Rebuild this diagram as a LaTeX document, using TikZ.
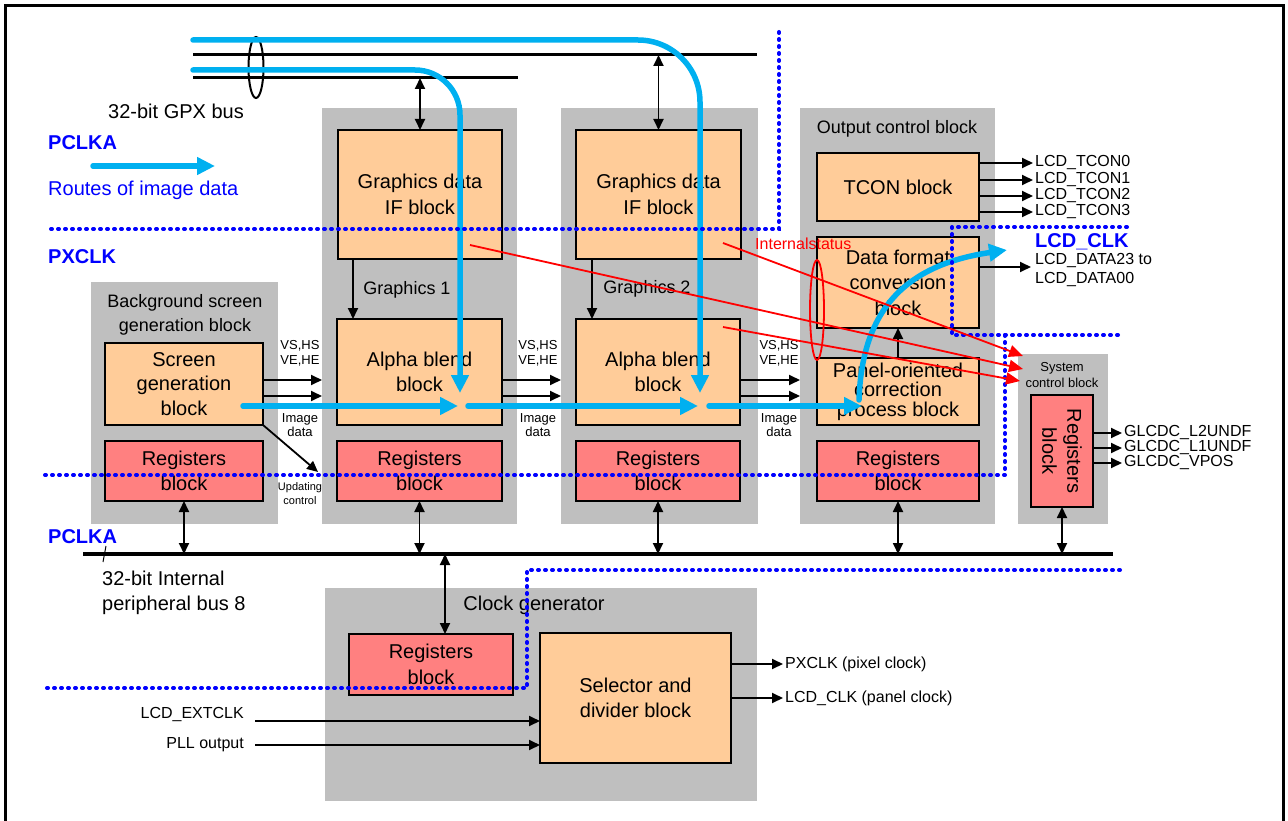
\documentclass[tikz,border=0pt]{standalone}
\usepackage{fontspec}
\setmainfont{Liberation Sans}
\usetikzlibrary{arrows.meta,calc,shapes.geometric}
\definecolor{panelgray}{RGB}{191,191,191}
\definecolor{orangefill}{RGB}{255,204,153}
\definecolor{regred}{RGB}{255,128,128}
\definecolor{routeblue}{RGB}{0,176,240}
\definecolor{clkblue}{RGB}{0,0,255}
\definecolor{statred}{RGB}{255,0,0}
\newcommand{\myfs}[2]{\fontsize{#1}{#2}\selectfont}
\begin{document}
\begin{tikzpicture}[x=1pt,y=-1pt,
  panel/.style={fill=panelgray, draw=none, inner sep=0pt, outer sep=0pt},
  blk/.style={draw=black, line width=2pt, fill=orangefill, align=center, inner sep=0pt, outer sep=0pt, font=\myfs{20}{25.5}},
  regblk/.style={blk, fill=regred},
  lbl/.style={inner sep=0pt, font=\myfs{18}{24}, align=center},
  sig/.style={inner sep=2pt, font=\myfs{16}{19}, anchor=west},
  clkl/.style={inner sep=0pt, anchor=west, text=clkblue, font=\bfseries\myfs{20}{24}},
  small/.style={inner sep=0pt, font=\myfs{13}{15}, align=center},
  arr/.style={line width=1.8pt, -{Triangle[length=11pt,width=10pt]}},
  dbl/.style={line width=1.8pt, {Triangle[length=11pt,width=10pt]}-{Triangle[length=11pt,width=10pt]}},
  route/.style={line width=5.5pt, draw=routeblue, line cap=round, -{Triangle[length=18pt,width=17pt]}},
  dots/.style={line width=4pt, draw=clkblue, dash pattern=on 1pt off 6pt, line cap=round},
  redarr/.style={line width=1.8pt, draw=statred, -{Triangle[length=14pt,width=12pt]}},
  busline/.style={line width=3pt, draw=black}
]
\useasboundingbox (0,0) rectangle (1288,821);
% outer frame
\draw[line width=3pt] (5,830) -- (5,6) -- (1283,6) -- (1283,830);

% panels
\node[panel, minimum width=187pt, minimum height=242pt] (PB) at (184.5,403) {};
\node[panel, minimum width=195pt, minimum height=416pt] (P1) at (419.5,316) {};
\node[panel, minimum width=197pt, minimum height=416pt] (P2) at (659.5,316) {};
\node[panel, minimum width=195pt, minimum height=416pt] (PO) at (897.5,316) {};
\node[panel, minimum width=90pt, minimum height=170pt] (PS) at (1063,439) {};
\node[panel, minimum width=432pt, minimum height=213pt] (PC) at (541,694.5) {};

% panel labels
\node[lbl] (PBt) at (185,315) {Background screen\\generation block};
\node[lbl] (G1t) at (407,290) {Graphics 1};
\node[lbl] (G2t) at (647,289) {Graphics 2};
\node[lbl] (POt) at (897,129) {Output control block};
\node[inner sep=0pt, font=\myfs{13}{16}, align=center] (PSt) at (1062,375) {System\\control block};
\node[inner sep=0pt, font=\myfs{20}{24}] (PCt) at (534,605) {Clock generator};

% blocks
\node[blk, minimum width=164pt, minimum height=129pt] (IF1) at (420,194.5) {Graphics data\\IF block};
\node[blk, minimum width=165pt, minimum height=129pt] (IF2) at (658.5,194.5) {Graphics data\\IF block};
\node[blk, minimum width=165pt, minimum height=106pt] (AB1) at (419.5,372) {Alpha blend\\block};
\node[blk, minimum width=164pt, minimum height=106pt] (AB2) at (658,372) {Alpha blend\\block};
\node[regblk, minimum width=165pt, minimum height=60pt] (R1) at (419.5,471) {Registers\\block};
\node[regblk, minimum width=164pt, minimum height=60pt] (R2) at (658,471) {Registers\\block};
\node[blk, minimum width=158pt, minimum height=82pt, font=\myfs{20}{24.5}] (SG) at (184,384) {Screen\\generation\\block};
\node[regblk, minimum width=158pt, minimum height=60pt] (RB) at (184,471) {Registers\\block};
\node[blk, minimum width=162pt, minimum height=68pt] (TC) at (898,187) {TCON block};
\node[blk, minimum width=162pt, minimum height=91pt] (DF) at (898,282.5) {Data format\\conversion\\block};
\node[blk, minimum width=162pt, minimum height=67pt, font=\myfs{20}{19.5}] (PN) at (898,391.5) {Panel-oriented\\correction\\process block};
\node[regblk, minimum width=162pt, minimum height=60pt] (R3) at (898,471) {Registers\\block};
\node[regblk, minimum width=62pt, minimum height=112pt] (RS) at (1062,451) {};
\node[rotate=-90, inner sep=0pt, font=\myfs{20}{25}, align=center] (RSt) at (RS.center) {Registers\\block};
\node[regblk, minimum width=164pt, minimum height=61pt] (RC) at (431,664.5) {Registers\\block};
\node[blk, minimum width=191pt, minimum height=130pt] (SEL) at (635.5,698) {Selector and\\divider block};

% free labels
\node[inner sep=0pt, anchor=west, font=\myfs{20}{24}] (gpxt) at (108,111) {32-bit GPX bus};
\node[clkl] (pclka1) at (48,143) {PCLKA};
\node[inner sep=0pt, anchor=west, text=clkblue, font=\myfs{20}{24}] (routet) at (48,190) {Routes of image data};
\node[clkl] (pxclk) at (48,257) {PXCLK};
\node[clkl] (pclka2) at (48,537) {PCLKA};
\node[inner sep=0pt, anchor=west, align=left, font=\myfs{20}{25}] (ibus) at (102,592.5) {32-bit Internal\\peripheral bus 8};

% small labels between blocks
\node[small] (vs1) at (300,353.5) {VS,HS\\VE,HE};
\node[small] (vs2) at (538,353.5) {VS,HS\\VE,HE};
\node[small] (vs3) at (779,353.5) {VS,HS\\VE,HE};
\node[small, font=\myfs{13}{14}] (id1) at (300,425) {Image\\data};
\node[small, font=\myfs{13}{14}] (id2) at (538,425) {Image\\data};
\node[small, font=\myfs{13}{14}] (id3) at (779,425) {Image\\data};
\node[small, font=\myfs{11}{14}] (uc) at (300,494) {Updating\\control};

% right side signals
\node[sig] (t0) at (1033,163) {LCD\_TCON0};
\node[sig] (t1) at (1033,180) {LCD\_TCON1};
\node[sig] (t2) at (1033,196) {LCD\_TCON2};
\node[sig] (t3) at (1033,212) {LCD\_TCON3};
\node[clkl] (lcdclk) at (1035,242) {LCD\_CLK};
\node[sig, align=left] (ld) at (1033,270.5) {LCD\_DATA23 to\\LCD\_DATA00};
\coordinate (ldc) at (1031,267);
\node[sig] (g1) at (1122,433) {GLCDC\_L2UNDF};
\node[sig] (g2) at (1122,448) {GLCDC\_L1UNDF};
\node[sig] (g3) at (1122,463) {GLCDC\_VPOS};
\node[sig] (pxo) at (783,664) {PXCLK (pixel clock)};
\node[sig] (lco) at (783,698) {LCD\_CLK (panel clock)};
\node[sig, anchor=east] (ext) at (246,714) {LCD\_EXTCLK};
\node[sig, anchor=east] (pll) at (246,745) {PLL output};
\node[inner sep=0pt, anchor=west, text=statred, font=\myfs{16}{18}] (ist) at (755,244) {Internalstatus};

% buses
\coordinate (gA1) at (193,55); \coordinate (gA2) at (757,55);
\coordinate (gB1) at (193,78); \coordinate (gB2) at (518,78);
\draw[busline] (gA1) -- (gA2);
\draw[busline] (gB1) -- (gB2);
\node[draw, ellipse, line width=2pt, minimum width=15pt, minimum height=61pt, inner sep=0pt] (gpxe) at (256,67.5) {};
\draw[dbl] (IF1.north |- gB1) -- (IF1.north);
\draw[dbl] (IF2.north |- gA1) -- (IF2.north);

\coordinate (ib1) at (83,554); \coordinate (ib2) at (1113,554);
\draw[line width=4pt] (ib1) -- (ib2);
\coordinate (tk1) at (106,546); \coordinate (tk2) at (103,562);
\draw[line width=1pt] (tk1) -- (tk2);
\draw[dbl] (RB.south) -- (RB.south |- ib1);
\draw[dbl] (R1.south) -- (R1.south |- ib1);
\draw[dbl] (R2.south) -- (R2.south |- ib1);
\draw[dbl] (R3.south) -- (R3.south |- ib1);
\draw[dbl] (RS.south) -- (RS.south |- ib1);
\coordinate (ckx) at (445,554);
\draw[dbl] (ckx) -- (ckx |- RC.north);

% internal arrows
\draw[arr] ([xshift=15pt]IF1.south west) -- ([xshift=16pt]AB1.north west);
\draw[arr] ([xshift=16pt]IF2.south west) -- ([xshift=16pt]AB2.north west);
\draw[arr] (PN.north) -- (DF.south);

\coordinate (va1) at ($(SG.east)+(0,-4)$);
\coordinate (va2) at ($(SG.east)+(0,12)$);
\draw[arr] (va1) -- (va1 -| P1.west);
\draw[arr] (va2) -- (va2 -| P1.west);
\coordinate (vb1) at ($(AB1.east)+(0,8)$);
\coordinate (vb2) at ($(AB1.east)+(0,24)$);
\draw[arr] (vb1) -- (vb1 -| P2.west);
\draw[arr] (vb2) -- (vb2 -| P2.west);
\coordinate (vc1) at ($(AB2.east)+(0,8)$);
\coordinate (vc2) at ($(AB2.east)+(0,24)$);
\draw[arr] (vc1) -- (vc1 -| PO.west);
\draw[arr] (vc2) -- (vc2 -| PO.west);
\coordinate (updc) at (318,472);
\draw[arr] (SG.south east) -- (updc);

\foreach \t in {t0,t1,t2,t3} {\draw[arr] (TC.east |- \t.west) -- (\t.west);}
\draw[arr] (DF.east |- ldc) -- (ldc);
\foreach \g in {g1,g2,g3} {\draw[arr] (RS.east |- \g.west) -- (\g.west);}
\draw[arr] (SEL.east |- pxo.west) -- (pxo.west);
\draw[arr] (SEL.east |- lco.west) -- (lco.west);
\coordinate (extc) at (255,721);
\coordinate (pllc) at (255,745);
\draw[arr] (extc) -- (extc -| SEL.west);
\draw[arr] (pllc) -- (pllc -| SEL.west);

% image data routes
\coordinate (b1s) at (193,40); \coordinate (b2s) at (193,70);
\coordinate (m1) at (460,393); \coordinate (m2) at (700,393);
\draw[route, rounded corners=62pt] (b1s) -| (m2);
\draw[route, rounded corners=45pt] (b2s) -| (m1);
\coordinate (h1s) at (243,406); \coordinate (h1e) at (458,406);
\coordinate (h2s) at (468,406); \coordinate (h2e) at (698,406);
\coordinate (h3s) at (709,406); \coordinate (h3e) at (862,406);
\draw[route] (h1s) -- (h1e);
\draw[route] (h2s) -- (h2e);
\draw[route] (h3s) -- (h3e);
\coordinate (cs) at (859,400); \coordinate (ce) at (1007,250);
\draw[route] (cs) .. controls (862,310) and (905,265) .. (ce);
\coordinate (lg1) at (93,166); \coordinate (lg2) at (215,166);
\draw[route] (lg1) -- (lg2);

% clock domain boundaries
\draw[dots] (779,32) -- (779,229) -- (48,229);
\draw[dots] (1127,227) -- (952,227) -- (952,335) -- (1120,335);
\draw[dots] (1005,335) -- (1005,475) -- (45,475);
\draw[dots] (1120,570) -- (527,570) -- (527,688) -- (46,688);

% internal status
\coordinate (rs1) at (470,245); \coordinate (re1) at (1023,369);
\coordinate (rs2) at (723,243); \coordinate (re2) at (1023,356);
\coordinate (rs3) at (723,327); \coordinate (re3) at (1020,381);
\draw[redarr] (rs1) -- (re1);
\draw[redarr] (rs2) -- (re2);
\draw[redarr] (rs3) -- (re3);
\node[draw=statred, ellipse, line width=1.8pt, minimum width=14pt, minimum height=100pt, inner sep=0pt] (ise) at (817,310) {};
\end{tikzpicture}
\end{document}
